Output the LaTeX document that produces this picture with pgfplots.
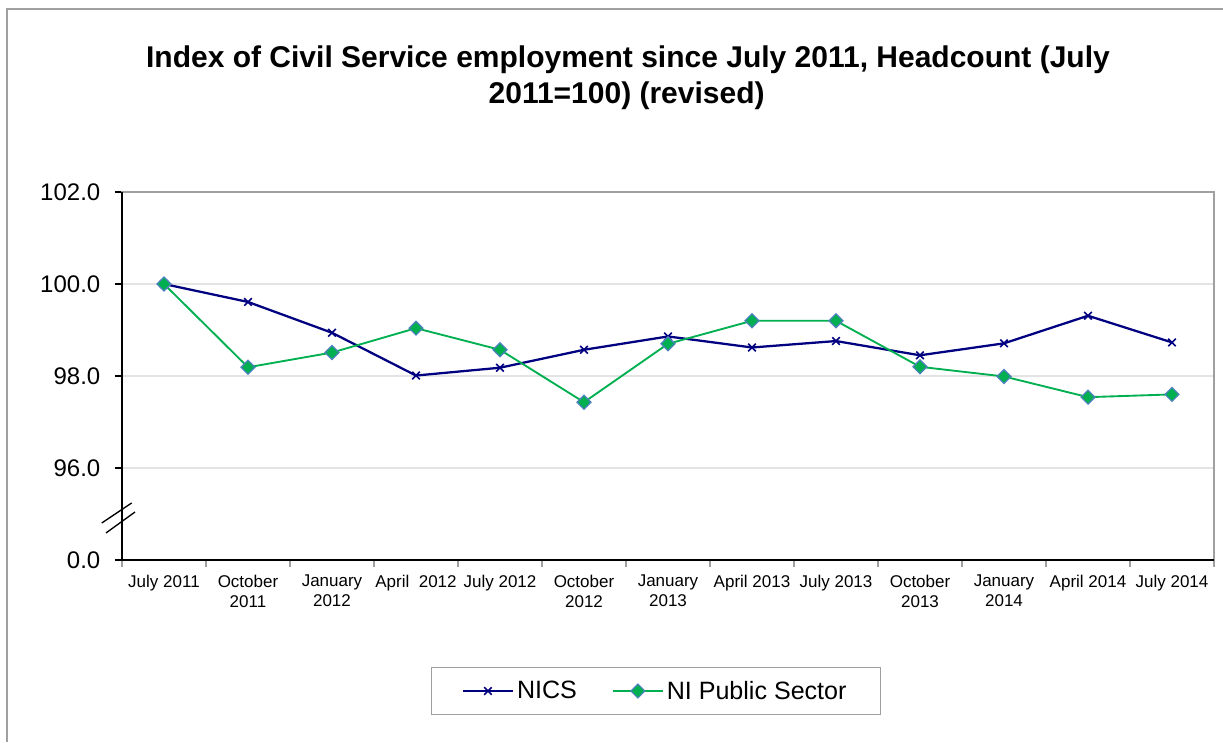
\documentclass[border=0pt]{standalone}
\usepackage{fontspec}
\setmainfont{Liberation Sans}
\usepackage{pgfplots}
\usepackage{pgfplotstable}
\pgfplotsset{compat=1.18}
\definecolor{navy}{HTML}{000080}
\definecolor{psgreen}{HTML}{00B050}
\definecolor{psedge}{HTML}{4F81BD}
\definecolor{gridc}{HTML}{E3E3E3}
\definecolor{framec}{HTML}{A0A0A0}

\pgfplotstableread{
idx nics ps
0 100.00 100.00
1 99.61 98.19
2 98.94 98.51
3 98.01 99.04
4 98.18 98.57
5 98.57 97.43
6 98.86 98.70
7 98.62 99.20
8 98.76 99.20
9 98.45 98.20
10 98.71 97.99
11 99.31 97.54
12 98.73 97.60
}\datatable

\begin{document}
\begin{tikzpicture}
\useasboundingbox (0,0) rectangle (917.25pt,556.5pt);
\draw[framec, line width=1pt] (5.25pt,0) -- (5.25pt,549.75pt) -- (917.25pt,549.75pt);
\node[font=\fontsize{22.5}{27}\selectfont\bfseries, anchor=base] at (471pt,505.5pt) {Index of Civil Service employment since July 2011, Headcount (July};
\node[font=\fontsize{22.5}{27}\selectfont\bfseries, anchor=base] at (470pt,478.5pt) {2011=100) (revised)};
\begin{axis}[
  at={(91.5pt,136.5pt)}, anchor=south west,
  width=819pt, height=276pt, scale only axis,
  xmin=-0.5, xmax=12.5, ymin=94, ymax=102,
  axis line style={draw=framec, line width=1pt},
  ytick={94,96,98,100,102},
  yticklabels={0.0,96.0,98.0,100.0,102.0},
  ymajorgrids, grid style={draw=gridc, line width=0.8pt},
  tick align=outside, ytick pos=left, xtick pos=bottom,
  major tick length=5.25pt,
  ytick style={draw=black, line width=0.8pt},
  xtick style={draw=framec, line width=0.8pt},
  yticklabel style={font=\fontsize{18}{21}\selectfont, xshift=-7.5pt},
  xtick={-0.5,0.5,...,12.5},
  x tick label as interval,
  xticklabels={July 2011,October\\2011,January\\2012,April\ \ 2012,July 2012,October\\2012,January\\2013,April 2013,July 2013,October\\2013,January\\2014,April 2014,July 2014},
  xticklabel style={font=\fontsize{12.75}{15}\selectfont, align=center, anchor=north, yshift=-2.5pt},
  clip=false,
  legend columns=2,
  legend style={at={(0.489,-0.356)}, anchor=center, draw=framec, fill=white,
    font=\fontsize{18.8}{22}\selectfont, inner xsep=23pt, inner ysep=8pt,
    /tikz/every even column/.append style={column sep=24pt},
    nodes={inner xsep=2.5pt}},
  legend image code/.code={\draw[mark repeat=2,mark phase=2,#1] plot coordinates {(0pt,0pt) (18.5pt,0pt) (37pt,0pt)};},
]
\addplot[navy, line width=1.7pt, mark=x, mark size=4pt, mark options={line width=1.2pt}] table[x=idx,y=nics]{\datatable};
\addlegendentry{NICS}
\addplot[psgreen, line width=1.4pt, mark=square*, mark size=3.7pt, mark options={rotate=45, fill=psgreen, draw=psedge, line width=0.9pt}] table[x=idx,y=ps]{\datatable};
\addlegendentry{NI Public Sector}
\draw[black, line width=1.2pt] (rel axis cs:0,1) -- (rel axis cs:0,0) -- (rel axis cs:1,0);
\draw[black, line width=1pt] (rel axis cs:-0.0186,0.1005) -- (rel axis cs:0.0089,0.155);
\draw[black, line width=1pt] (rel axis cs:-0.0147,0.0734) -- (rel axis cs:0.0119,0.1304);
\end{axis}
\end{tikzpicture}
\end{document}
